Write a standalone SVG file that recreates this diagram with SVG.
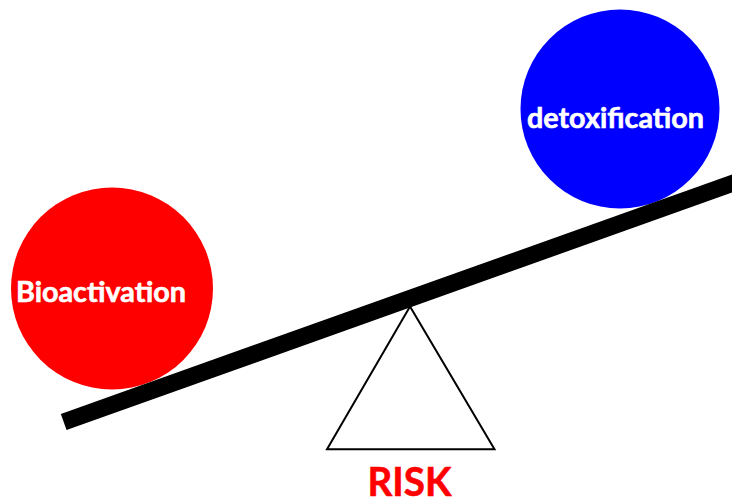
<svg xmlns="http://www.w3.org/2000/svg" width="732" height="500" viewBox="0 0 732 500">
<style>
.lbl{font-family:Lato,"Open Sans","Liberation Sans",sans-serif;font-weight:bold;fill:#fff;stroke:#fff;stroke-width:0.6;}
.risk{font-family:Lato,"Open Sans","Liberation Sans",sans-serif;font-weight:bold;fill:#ff0000;stroke:#ff0000;stroke-width:0.6;}
</style>
<rect width="732" height="500" fill="#fff"/>
<g id="bioactivation">
<circle cx="112" cy="288.5" r="101" fill="#ff0000"/>
<text class="lbl" x="16" y="302.3" font-size="28" textLength="170" lengthAdjust="spacingAndGlyphs">Bioactivation</text>
</g>
<g id="detoxification">
<circle cx="620" cy="109" r="99.5" fill="#0000ff"/>
<text class="lbl" x="527" y="128.3" font-size="28" textLength="177" lengthAdjust="spacingAndGlyphs">detoxification</text>
</g>
<g id="fulcrum">
<polygon points="410,306.5 327,449.3 494.5,449.3" fill="#fff" stroke="#000" stroke-width="2" stroke-linejoin="miter"/>
</g>
<g id="connectors">
<line x1="63.7" y1="422" x2="740" y2="180.7" stroke="#000" stroke-width="17"/>
</g>
<g id="risk">
<text class="risk" x="367.5" y="496" font-size="41" textLength="84" lengthAdjust="spacingAndGlyphs">RISK</text>
</g>
</svg>
